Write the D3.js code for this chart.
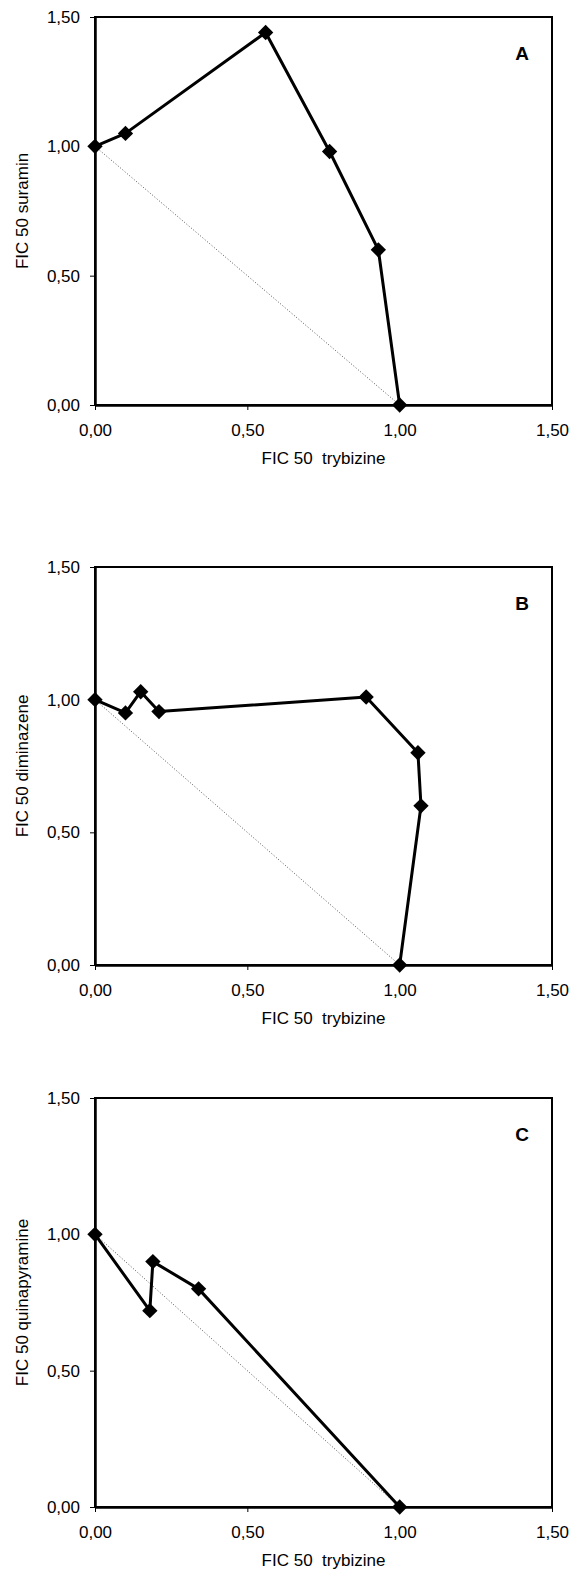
<!DOCTYPE html>
<html>
<head>
<meta charset="utf-8">
<script src="https://cdn.jsdelivr.net/npm/d3@7"></script>
<style>
body { margin: 0; background: #fff; }
text { font-family: "Liberation Sans", Arial, sans-serif; fill: #000; }
</style>
</head>
<body>
<svg width="573" height="1570"></svg>
<script>
var tickValues = [0, 0.5, 1, 1.5];
var panelLabels = ["A", "B", "C"];
var xTitle = "FIC 50  trybizine";
var yTitles = ["FIC 50 suramin", "FIC 50 diminazene", "FIC 50 quinapyramine"];

var xSuramin = [0, 0.10, 0.56, 0.77, 0.93, 1.00];
var ySuramin = [1.00, 1.05, 1.44, 0.98, 0.60, 0.00];

var xDiminazene = [0, 0.10, 0.15, 0.21, 0.89, 1.06, 1.07, 1.00];
var yDiminazene = [1.00, 0.95, 1.03, 0.955, 1.01, 0.80, 0.60, 0.00];

var xQuinapyramine = [0, 0.18, 0.19, 0.34, 1.00];
var yQuinapyramine = [1.00, 0.72, 0.90, 0.80, 0.00];

var additivity = [[0, 1], [1, 0]];

var seriesX = [xSuramin, xDiminazene, xQuinapyramine];
var seriesY = [ySuramin, yDiminazene, yQuinapyramine];

var svg = d3.select("svg");
var left = 95, right = 552;
var tops = [17, 567, 1098];
var bottoms = [405, 965, 1507];
var fmt = function(d){ return d3.format(".2f")(d).replace(".", ","); };

for (var p = 0; p < 3; p++) {
	drawPanel(p);
}

function drawPanel(p){
	var top = tops[p], bottom = bottoms[p];
	var g = svg.append("g").attr("class", "panel" + p);

	var x = d3.scaleLinear().domain([0, 1.5]).range([left, right]);
	var y = d3.scaleLinear().domain([0, 1.5]).range([bottom, top]);

	// frame
	g.append("rect")
		.attr("x", left).attr("y", top)
		.attr("width", right - left).attr("height", bottom - top)
		.attr("fill", "none").attr("stroke", "#000").attr("stroke-width", 2);

	var xAxis = g.append("g")
		.attr("transform", "translate(0," + bottom + ")")
		.call(d3.axisBottom(x).tickValues(tickValues).tickFormat(fmt).tickSize(5).tickSizeOuter(0).tickPadding(14));
	var yAxis = g.append("g")
		.attr("transform", "translate(" + left + ",0)")
		.call(d3.axisLeft(y).tickValues(tickValues).tickFormat(fmt).tickSize(5).tickSizeOuter(0).tickPadding(10));

	[xAxis, yAxis].forEach(function(a){
		a.select(".domain").attr("stroke", "#000").attr("stroke-width", 2.5);
		a.selectAll(".tick line").attr("stroke", "#000").attr("stroke-width", 1);
		a.selectAll(".tick text").style("font-size", "17px").attr("fill", "#000");
	});

	// additivity line
	var line = d3.line().x(function(d){ return x(d[0]); }).y(function(d){ return y(d[1]); });
	g.append("path")
		.datum(additivity)
		.attr("d", line)
		.attr("fill", "none")
		.attr("stroke", "#555")
		.attr("stroke-width", 1)
		.attr("stroke-dasharray", "1,2");

	var pts = seriesX[p].map(function(v, i){ return [v, seriesY[p][i]]; });
	g.append("path")
		.datum(pts)
		.attr("d", line)
		.attr("fill", "none")
		.attr("stroke", "#000")
		.attr("stroke-width", 3)
		.attr("stroke-linejoin", "round");

	g.selectAll(".pt").data(pts).enter().append("path")
		.attr("class", "pt")
		.attr("d", d3.symbol().type(d3.symbolDiamond2).size(150))
		.attr("transform", function(d){ return "translate(" + x(d[0]) + "," + y(d[1]) + ")"; })
		.attr("fill", "#000");

	g.append("text")
		.attr("x", right - 30)
		.attr("y", top + 43)
		.attr("text-anchor", "middle")
		.style("font-size", "19px")
		.style("font-weight", "bold")
		.text(panelLabels[p]);

	g.append("text")
		.attr("x", (left + right) / 2)
		.attr("y", bottom + 59)
		.attr("text-anchor", "middle")
		.style("font-size", "17px")
		.style("white-space", "pre")
		.text(xTitle);

	g.append("text")
		.attr("transform", "translate(28," + ((top + bottom) / 2) + ") rotate(-90)")
		.attr("text-anchor", "middle")
		.style("font-size", "17px")
		.text(yTitles[p]);
}
</script>
</body>
</html>
